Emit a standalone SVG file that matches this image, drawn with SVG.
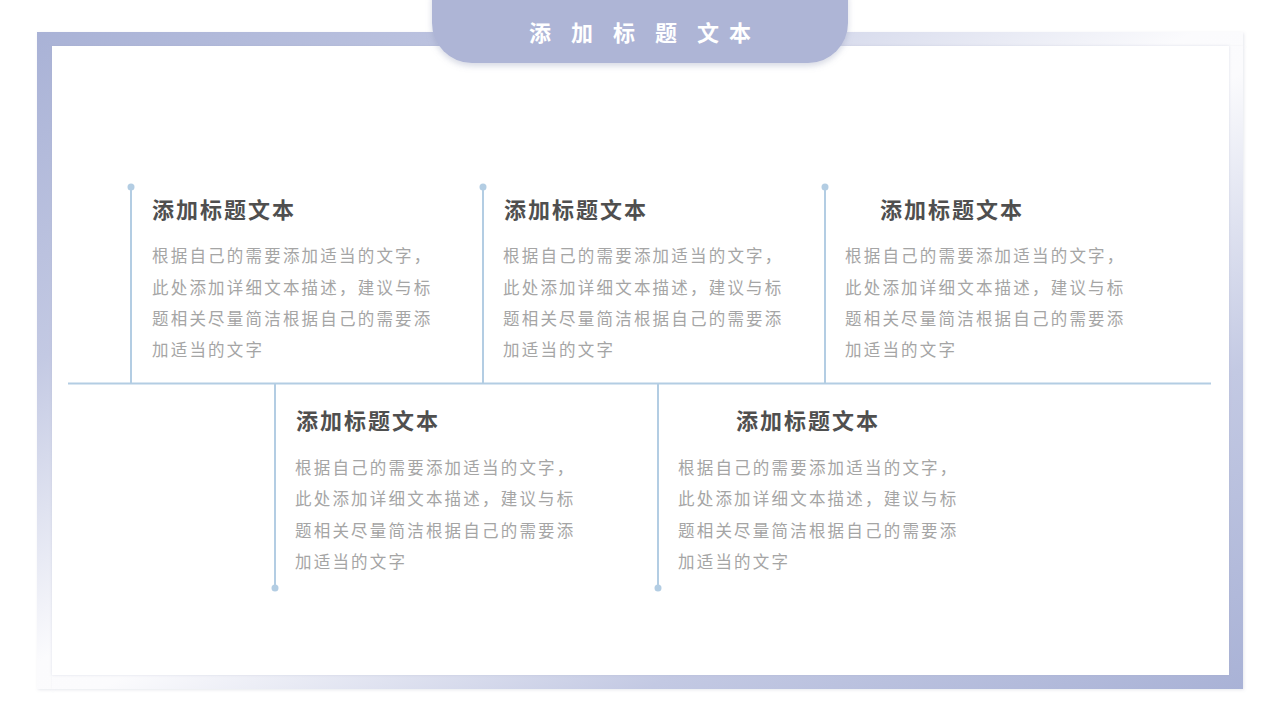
<svg xmlns="http://www.w3.org/2000/svg" width="1280" height="720" viewBox="0 0 1280 720">
<defs>
<linearGradient id="gTL" x1="0" y1="0" x2="1" y2="1">
<stop offset="0" stop-color="#a9b2d6"/>
<stop offset="0.25" stop-color="#c3c9e3"/>
<stop offset="0.48" stop-color="#fbfbfd"/>
<stop offset="1" stop-color="#ffffff"/>
</linearGradient>
<linearGradient id="gBR" x1="1" y1="1" x2="0" y2="0">
<stop offset="0" stop-color="#a9b2d6"/>
<stop offset="0.25" stop-color="#c3c9e3"/>
<stop offset="0.48" stop-color="#fbfbfd"/>
<stop offset="1" stop-color="#ffffff"/>
</linearGradient>
<filter id="sh" x="-10%" y="-30%" width="120%" height="180%">
<feDropShadow dx="0" dy="3" stdDeviation="3" flood-color="#8890b0" flood-opacity="0.35"/>
</filter>
<filter id="sh2" x="-5%" y="-5%" width="110%" height="110%">
<feDropShadow dx="0" dy="0" stdDeviation="1.5" flood-color="#9aa0b8" flood-opacity="0.3"/>
</filter>
<filter id="sh3" x="-5%" y="-5%" width="110%" height="110%">
<feDropShadow dx="1" dy="1" stdDeviation="1.5" flood-color="#9aa0b8" flood-opacity="0.25"/>
</filter>
</defs>
<style>
.ttl{font-family:"Noto Sans CJK SC","Noto Sans",sans-serif;font-size:22px;font-weight:bold;fill:#4f4f4f;letter-spacing:2px}
.body{font-family:"Noto Sans CJK SC","Noto Sans",sans-serif;font-size:16.5px;fill:#a5a5a5;letter-spacing:2.2px}
.ln{stroke:#b3cde3;stroke-width:2;fill:none}
.dot{fill:#b3cde3}
.hd{font-family:"Noto Sans CJK SC","Noto Sans",sans-serif;font-size:22px;font-weight:bold;fill:#ffffff}
</style>
<rect width="1280" height="720" fill="#ffffff"/>
<g id="frame">
<path d="M37 32 H1243 V46 H52 V689 H37 Z" fill="url(#gTL)" filter="url(#sh3)"/>
<path d="M1243 46 V689 H52 V675 H1229 V46 Z" fill="url(#gBR)" filter="url(#sh3)"/>
<rect x="52" y="46" width="1177" height="629" fill="#ffffff" filter="url(#sh2)"/>
</g>
<g id="header">
<rect x="432" y="-40" width="416" height="103" rx="40" fill="#aeb5d6" filter="url(#sh)"/>
<text class="hd" x="540 582 624 666 708 740" y="41" text-anchor="middle">添加标题文本</text>
</g>
<g id="connectors">
<line class="ln" x1="68" y1="383.5" x2="1211" y2="383.5"/>
<line class="ln" x1="131" y1="187" x2="131" y2="383"/>
<circle class="dot" cx="131" cy="187" r="3.5"/>
<line class="ln" x1="483" y1="187" x2="483" y2="383"/>
<circle class="dot" cx="483" cy="187" r="3.5"/>
<line class="ln" x1="825" y1="187" x2="825" y2="383"/>
<circle class="dot" cx="825" cy="187" r="3.5"/>
<line class="ln" x1="275" y1="384" x2="275" y2="588"/>
<circle class="dot" cx="275" cy="588" r="3.5"/>
<line class="ln" x1="658" y1="384" x2="658" y2="588"/>
<circle class="dot" cx="658" cy="588" r="3.5"/>
</g>
<g id="node1">
<text class="ttl" x="152" y="218">添加标题文本</text>
<text class="body" x="152" y="262">根据自己的需要添加适当的文字，</text>
<text class="body" x="152" y="294">此处添加详细文本描述，建议与标</text>
<text class="body" x="152" y="325">题相关尽量简洁根据自己的需要添</text>
<text class="body" x="152" y="356">加适当的文字</text>
</g>
<g id="node2">
<text class="ttl" x="504" y="218">添加标题文本</text>
<text class="body" x="503" y="262">根据自己的需要添加适当的文字，</text>
<text class="body" x="503" y="294">此处添加详细文本描述，建议与标</text>
<text class="body" x="503" y="325">题相关尽量简洁根据自己的需要添</text>
<text class="body" x="503" y="356">加适当的文字</text>
</g>
<g id="node3">
<text class="ttl" x="880" y="218">添加标题文本</text>
<text class="body" x="845" y="262">根据自己的需要添加适当的文字，</text>
<text class="body" x="845" y="294">此处添加详细文本描述，建议与标</text>
<text class="body" x="845" y="325">题相关尽量简洁根据自己的需要添</text>
<text class="body" x="845" y="356">加适当的文字</text>
</g>
<g id="node4">
<text class="ttl" x="296" y="429">添加标题文本</text>
<text class="body" x="295" y="474">根据自己的需要添加适当的文字，</text>
<text class="body" x="295" y="505">此处添加详细文本描述，建议与标</text>
<text class="body" x="295" y="537">题相关尽量简洁根据自己的需要添</text>
<text class="body" x="295" y="568">加适当的文字</text>
</g>
<g id="node5">
<text class="ttl" x="736" y="429">添加标题文本</text>
<text class="body" x="678" y="474">根据自己的需要添加适当的文字，</text>
<text class="body" x="678" y="505">此处添加详细文本描述，建议与标</text>
<text class="body" x="678" y="537">题相关尽量简洁根据自己的需要添</text>
<text class="body" x="678" y="568">加适当的文字</text>
</g>
</svg>
